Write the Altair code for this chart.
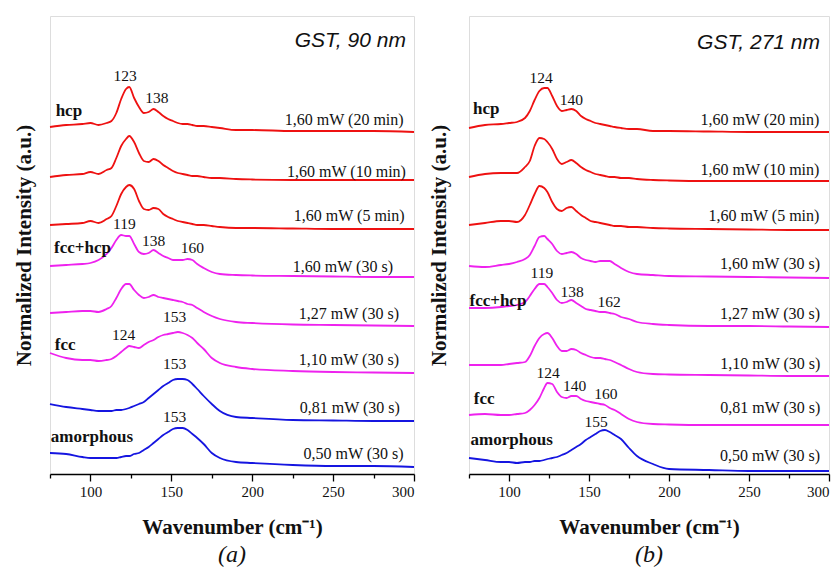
import altair as alt
import pandas as pd

# ---------------- data ----------------
WN = [75, 85, 95, 100, 105, 110, 113, 116, 119, 122, 124, 127, 130, 133, 136, 139,
      142, 145, 148, 151, 154, 157, 160, 163, 166, 170, 175, 180, 190, 200, 225, 250, 275, 300]

# Panel (a) GST 90 nm, stacked normalized intensities (a.u.)
a_20min = [347, 349, 350, 351, 349, 351, 353, 361, 375, 385, 387, 376, 367, 361, 362, 365, 362,
           358, 355, 353, 351, 350, 350, 349, 348, 348, 347, 346, 344, 344, 343, 343, 343, 342]
a_10min = [297, 299, 300, 302, 300, 304, 306, 316, 328, 335, 338, 332, 321, 313, 312, 315, 313,
           309, 306, 303, 301, 300, 299, 298, 298, 297, 296, 296, 295, 294.5, 294, 294, 294, 294]
a_5min = [249, 250, 251, 253, 251, 255, 258, 268, 280, 287, 289, 285, 273, 265, 264, 266, 265,
          260, 257, 255, 253, 252, 251, 250, 249, 249, 248, 247, 246, 246, 245.5, 245, 245, 245]
a_30s = [208, 209, 210, 211, 214, 220, 226, 234, 239, 238, 238, 230, 222, 220, 221, 224, 221,
         218, 216, 214, 214, 214, 215, 214, 210, 206, 202, 200, 199, 198.5, 198, 197.5, 197, 197]
a_127 = [161, 162, 163, 163, 162, 165, 168, 176, 185, 190, 190, 184, 179, 176, 177, 179, 177,
         176, 175, 174, 173, 172, 170, 169, 166, 162, 158, 155, 152, 151, 149.5, 149, 148.5, 148]
a_110 = [121, 116, 114, 114, 113, 114, 115, 118, 122, 126, 128, 127, 126, 129, 132, 134, 137,
         139, 140, 141, 142, 141, 139, 136, 131, 125, 116, 111, 107, 105, 103, 102, 101.5, 101]
a_081 = [70, 67, 65, 64, 63, 63, 63, 64, 64, 65, 66, 68, 70, 72, 76, 80, 84,
         88, 91, 94, 95, 95, 94, 90, 85, 78, 70, 63, 57, 56, 54, 53.5, 53, 53]
a_050 = [21, 20, 17, 16, 16, 16, 16, 16, 17, 18, 18, 20, 21, 24, 27, 31, 35,
         39, 42, 45, 46, 46, 44, 40, 36, 30, 21, 16, 12, 11, 9, 8, 8, 7]

# Panel (b) GST 271 nm
b_20min = [346, 349, 350, 351, 352, 356, 363, 374, 383, 386, 386, 378, 368, 363, 364, 365, 363,
           358, 355, 353, 351, 350, 349, 348, 347, 346, 345, 345, 343, 343, 342.5, 342, 342, 342]
b_10min = [297, 300, 301, 301, 301, 307, 313, 328, 336, 335, 332, 325, 315, 310, 312, 314, 311,
           307, 304, 302, 300, 299, 298, 297, 297, 296, 296, 295, 294, 293.5, 293, 293, 293, 293]
b_5min = [249, 251, 253, 253, 252, 259, 269, 280, 288, 286, 282, 272, 265, 263, 266, 267, 263,
          259, 256, 253, 252, 251, 250, 249, 248, 248, 247, 247, 246, 245.5, 245, 244.5, 244, 244]
b_30s = [208, 207, 209, 210, 212, 215, 219, 228, 237, 238, 235, 230, 223, 220, 221, 222, 220,
         216, 214, 213, 212, 213, 213, 213, 210, 206, 202, 200, 199, 198, 197.5, 197, 196.5, 196]
b_127 = [166, 166, 167, 168, 169, 172, 178, 185, 190, 190, 187, 181, 174, 171, 172, 174, 171,
         168, 165, 164, 163, 162, 162, 161, 160, 157, 155, 152, 150, 149, 148, 148, 147.5, 147]
b_110 = [109, 109, 109, 110, 111, 112, 118, 128, 136, 140, 141, 136, 128, 123, 123, 125, 124,
         121, 119, 117, 116, 116, 115, 114, 112, 109, 105, 102, 100, 99.5, 99, 98.5, 98, 98]
b_081 = [59, 60, 59, 59, 60, 61, 64, 69, 76, 86, 91, 90, 82, 77, 76, 78, 78,
         75, 73, 72, 71, 70, 69, 66, 64, 60, 55, 52, 50, 49.5, 49, 49, 49, 49]
b_050 = [16, 14, 12, 12, 11, 12, 12, 13, 13, 14, 15, 16, 17, 19, 21, 24, 27,
         30, 34, 37, 40, 43, 44, 42, 39, 35, 26, 18, 10, 5, 4, 3, 3, 3]

POWER_LABELS = ["1,60 mW (20 min)", "1,60 mW (10 min)", "1,60 mW (5 min)", "1,60 mW (30 s)",
                "1,27 mW (30 s)", "1,10 mW (30 s)", "0,81 mW (30 s)", "0,50 mW (30 s)"]

a_series = [a_20min, a_10min, a_5min, a_30s, a_127, a_110, a_081, a_050]
a_colors = ["#ee1111", "#ee1111", "#ee1111", "#ee22ee", "#ee22ee", "#ee22ee", "#1515e0", "#1515e0"]
b_series = [b_20min, b_10min, b_5min, b_30s, b_127, b_110, b_081, b_050]
b_colors = ["#ee1111", "#ee1111", "#ee1111", "#ee22ee", "#ee22ee", "#ee22ee", "#ee22ee", "#1515e0"]

# annotations
a_title = ["GST, 90 nm"]; a_title_x = [295]; a_title_y = [433]
b_title = ["GST, 271 nm"]; b_title_x = [294.4]; b_title_y = [431]

a_phase = ["hcp", "fcc+hcp", "fcc", "amorphous"]
a_phase_x = [78.5, 77.5, 78, 75.5]
a_phase_y = [363, 226, 129, 37]
b_phase = ["hcp", "fcc+hcp", "fcc", "amorphous"]
b_phase_x = [77.5, 75.3, 78, 76]
b_phase_y = [365, 173, 75, 34]

a_peak = ["123", "138", "119", "138", "160", "124", "153", "153", "153"]
a_peak_x = [121.4, 141, 121, 139, 163, 120.5, 152, 152, 152]
a_peak_y = [398, 376, 250, 233, 226, 139, 157, 110, 57]
b_peak = ["124", "140", "119", "138", "162", "124", "140", "160", "155"]
b_peak_x = [120, 139, 120.6, 139.4, 162.5, 124.4, 141, 160.6, 154.4]
b_peak_y = [396, 374, 201, 182, 172, 101, 88, 80, 52]

a_power_x = [293.6, 295, 294.2, 287, 290.7, 290.7, 291.3, 293.6]
a_power_y = [354, 302, 258, 207, 160, 114, 66, 20]
b_power_x = [294, 294, 294, 294.4, 294.4, 294.6, 294.6, 294.4]
b_power_y = [354, 304, 258, 210, 160, 110, 66, 18]

TICKS = [75, 100, 125, 150, 175, 200, 225, 250, 275, 300]

SERIF = "Liberation Serif"
SANS = "Liberation Sans"


def panel(series, colors, title, tx, ty, phase, px, py, peak, kx, ky, pwx, pwy,
          width, ytitle_pad, letter):
    rows = []
    for i, (vals, col) in enumerate(zip(series, colors)):
        for w, v in zip(WN, vals):
            rows.append({"wn": w, "val": v, "series": POWER_LABELS[i], "color": col, "order": i})
    df = pd.DataFrame(rows)

    lines = alt.Chart(df).mark_line(strokeWidth=1.8, interpolate="monotone").encode(
        color=alt.Color("color:N", scale=None),
        detail="series:N",
    )
    t_title = alt.Chart(pd.DataFrame({"wn": tx, "val": ty, "t": title})).mark_text(
        font=SANS, fontStyle="italic", fontSize=21, align="right", baseline="middle", color="#111"
    ).encode(text="t:N")
    t_phase = alt.Chart(pd.DataFrame({"wn": px, "val": py, "t": phase})).mark_text(
        font=SERIF, fontWeight="bold", fontSize=17, align="left", baseline="middle", color="#111"
    ).encode(text="t:N")
    t_peak = alt.Chart(pd.DataFrame({"wn": kx, "val": ky, "t": peak})).mark_text(
        font=SERIF, fontSize=15.5, align="center", baseline="middle", color="#111"
    ).encode(text="t:N")
    t_power = alt.Chart(pd.DataFrame({"wn": pwx, "val": pwy, "t": POWER_LABELS})).mark_text(
        font=SERIF, fontSize=16, align="right", baseline="middle", color="#111"
    ).encode(text="t:N")

    x = alt.X(
        "wn:Q",
        scale=alt.Scale(domain=[75, 300], nice=False, zero=False),
        axis=alt.Axis(
            values=TICKS,
            labelExpr="datum.value % 50 == 0 ? datum.label : ''",
            tickSize={"condition": {"test": "datum.value % 50 == 0", "value": 7}, "value": 4},
            tickColor="#000", tickWidth=1.3,
            domainColor="#000", domainWidth=1.5,
            grid=False,
            labelFont=SERIF, labelFontSize=15, labelColor="#111", labelPadding=3,
            title="Wavenumber (cm⁻¹)",
            titleFont=SERIF, titleFontSize=21, titleFontWeight="bold", titleColor="#111",
            titlePadding=17,
        ),
    )
    y = alt.Y(
        "val:Q",
        scale=alt.Scale(domain=[0, 458], nice=False, zero=False),
        axis=alt.Axis(
            labels=False, ticks=False, domain=False, grid=False,
            title="Normalized Intensity (a.u.)",
            titleFont=SERIF, titleFontSize=21, titleFontWeight="bold", titleColor="#111",
            titlePadding=ytitle_pad,
        ),
    )
    return alt.layer(lines, t_title, t_phase, t_peak, t_power).encode(x=x, y=y).properties(
        width=width, height=458,
        title=alt.TitleParams(letter, orient="bottom", font=SERIF, fontSize=24,
                              fontStyle="italic", fontWeight="normal", color="#111",
                              anchor="middle", offset=6),
    )


pa = panel(a_series, a_colors, a_title, a_title_x, a_title_y, a_phase, a_phase_x, a_phase_y,
           a_peak, a_peak_x, a_peak_y, a_power_x, a_power_y, 364, 16, "(a)")
pb = panel(b_series, b_colors, b_title, b_title_x, b_title_y, b_phase, b_phase_x, b_phase_y,
           b_peak, b_peak_x, b_peak_y, b_power_x, b_power_y, 360, 20, "(b)")

chart = alt.hconcat(pa, pb, spacing=55, bounds="flush").properties(
    padding={"left": 12, "top": 15, "right": 0, "bottom": 0}
).configure_view(stroke="#9a9a9a", strokeWidth=1.2).configure(background="white")

chart.save("out.html", embed_options={"renderer": "svg", "actions": False})
